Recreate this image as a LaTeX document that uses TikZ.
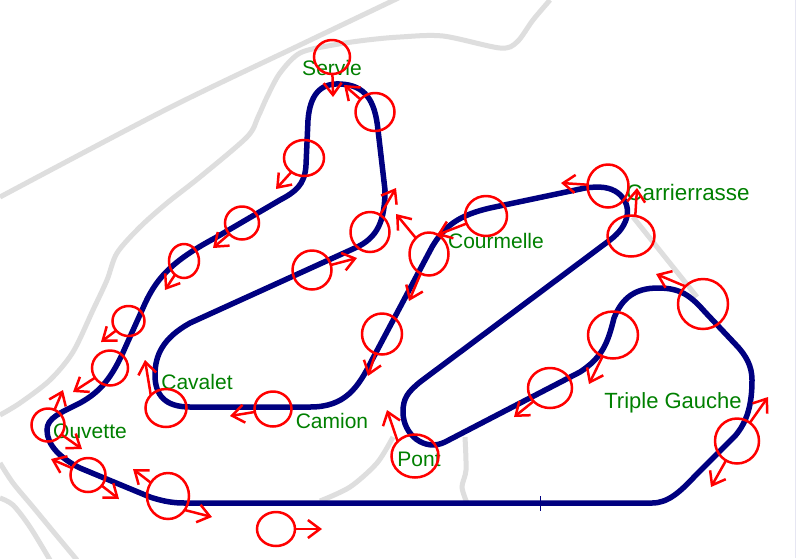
\documentclass[tikz,border=0pt]{standalone}
\usepackage{fontspec}
\setmainfont{Liberation Sans}
\usetikzlibrary{arrows.meta,shapes.geometric}
\definecolor{trackblue}{RGB}{0,0,128}
\definecolor{roadgrey}{RGB}{222,222,222}
\definecolor{labelgreen}{RGB}{0,128,0}
\definecolor{edgeline}{RGB}{230,230,242}
\tikzset{
road/.style={draw=roadgrey,line width=5pt},
track/.style={draw=trackblue,line width=5.5pt},
turn/.style={ellipse,draw=red,line width=2.5pt,inner sep=0pt,outer sep=0pt},
pointer/.style={draw=red,line width=2.5pt,-{Straight Barb[length=12pt,width=18pt,line width=2.5pt]}},
place/.style={text=labelgreen,inner sep=0pt}
}
\begin{document}
\begin{tikzpicture}[x=1pt,y=-1pt]
\useasboundingbox (0,0) rectangle (799,558);
\fill[white] (0,0) rectangle (799,558);
\draw[edgeline,line width=1pt] (795.5,0) -- (795.5,558);
% roads
\draw[road] plot[smooth,tension=0.5] coordinates {(0,197) (167,109) (300,45) (390,2) (400,-3)};
\draw[road] plot[smooth,tension=0.5] coordinates {(0,415) (20,403) (50,380) (73,352) (93,310) (107,280) (117,253) (140,227) (167,203) (200,177) (247,137) (258,117) (267,97) (280,73) (300,53) (333,45) (367,40) (400,37) (443,36) (500,48) (517,42) (533,20) (550,0)};
\draw[road] (633,217) -- (697,297);
\draw[road] plot[smooth,tension=0.5] coordinates {(465,437) (466,470) (462,487) (467,503)};
\draw[road] plot[smooth,tension=0.5] coordinates {(320,501) (350,487) (377,463) (393,437)};
\draw[road] plot[smooth,tension=0.5] coordinates {(0,463) (13,483) (33,507) (52,530) (77,560)};
\draw[road] plot[smooth,tension=0.5] coordinates {(0,498) (13,505) (30,527) (50,560)};
% track
\draw[track] (185,503) -- (652,503)
  .. controls (668,503) and (680,492) .. (695,476) -- (735,436)
  .. controls (747,422) and (752,405) .. (752,380)
  .. controls (752,365) and (745,355) .. (738,347) -- (705,312)
  .. controls (690,295) and (680,288) .. (658,288)
  .. controls (635,288) and (622,298) .. (614,318)
  .. controls (608,342) and (603,357) .. (580,372) -- (445,442)
  .. controls (425,452) and (403,435) .. (403,412)
  .. controls (403,398) and (408,392) .. (420,382) -- (610,240)
  .. controls (630,225) and (633,205) .. (618,193)
  .. controls (610,187) and (600,186) .. (585,188) -- (490,208)
  .. controls (460,215) and (445,225) .. (432,247) -- (372,360)
  .. controls (358,388) and (345,407) .. (310,407) -- (190,407)
  .. controls (165,407) and (155,395) .. (155,375)
  .. controls (155,355) and (163,338) .. (190,323) -- (355,248)
  .. controls (378,238) and (385,220) .. (385,190) -- (378,130)
  .. controls (375,100) and (365,85) .. (340,84)
  .. controls (320,83) and (310,95) .. (308,120) -- (306,165)
  .. controls (305,185) and (295,192) .. (280,200) -- (215,238)
  .. controls (170,262) and (155,280) .. (143,308) -- (125,348)
  .. controls (112,378) and (100,392) .. (80,403)
  .. controls (60,413) and (47,418) .. (47,430)
  .. controls (47,445) and (60,458) .. (80,468) -- (150,497)
  .. controls (165,502) and (175,503) .. (185,503) -- cycle;
\draw[trackblue,line width=1pt] (540,496) -- (540,511);
% labels
\foreach \name/\x/\y/\s/\txt in {servie/332/68/21/Servie,cavalet/197/382/21/Cavalet,ouvette/90/431/21/Ouvette,camion/332/421/21/Camion,pont/419/459/21/Pont,triple/673/403/22/Triple Gauche,courmelle/496/241/21/Courmelle,carriere/688/192/22.4/Carrierrasse}
  \node[place,font=\fontsize{\s}{24}\selectfont] (\name) at (\x,\y) {\txt};
% turns
\foreach \name/\x/\y/\w/\h in {ta/128.5/321/32/30,tb/110/368/36/35,tc/48/425/33/33,td/88/475/35/34,te/168/496/42/46,tf/276/529/38/34,tg/166/408/41/38,th/273/409/37/35,ti/382/334/40/41,tj/613/335/50/47,tk/550/388/44/40,tl/703/304/50/50,tm/737/441/44/45,tn/332/57/36/34,to/375/112/39/38,tp/304/158/40/36,tq/242/223/34/33,tr/184/261/30/34,ts/370/232/39/40,tt/312/270/39/39,tu/429/254/39/43,tv/486/216/42/40,tw/608/186/41/43,tx/631/236/47/41,ty/415/456/47/43}
  \node[turn,minimum width=\w pt,minimum height=\h pt] (\name) at (\x,\y) {};
% arrows
\foreach \from/\tip/\x/\y in {ta/a/101/342,tb/b/73/392,tc/c/63/390,tc/cc/82/449,td/d/51/459,td/dd/119/499,te/e/133/469,te.-40/ee/212/517,tf/f/322/529,tg.140/g/145/360,th/h/230/416,ti/i/368/376,tj/j/589/384,tk/k/514/417,tl.135/l/656/274,tm/m/768/397,tm/mm/711/487,tn/n/333/97,to/o/344/85,tp/p/276/189,tq/q/213/248,tr/r/165/290,ts/s/396/188,tt/t/357/258,tu/u/396/214,tu/uu/409/301,tv/v/437/235,tw/w/561/183,tx.78/x/637/188,ty.140/y/387/410}{
  \coordinate (tip\tip) at (\x,\y);
  \draw[pointer] (\from) -- (tip\tip);
}
\end{tikzpicture}
\end{document}
